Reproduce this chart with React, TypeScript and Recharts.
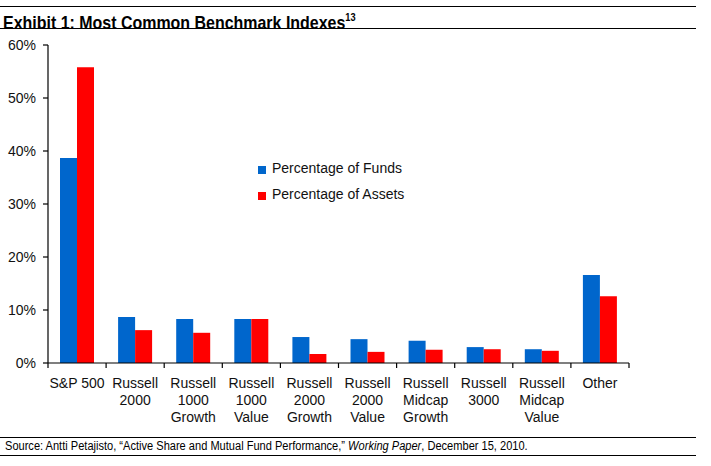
import React from "react";
import {
  Bar,
  BarChart,
  Legend,
  XAxis,
  YAxis,
} from "recharts";

// values, in percent
const categories: string[] = [
  "S&P 500",
  "Russell\n2000",
  "Russell\n1000\nGrowth",
  "Russell\n1000\nValue",
  "Russell\n2000\nGrowth",
  "Russell\n2000\nValue",
  "Russell\nMidcap\nGrowth",
  "Russell\n3000",
  "Russell\nMidcap\nValue",
  "Other",
];
const pctFunds: number[] = [38.7, 8.7, 8.3, 8.3, 4.9, 4.5, 4.2, 3.0, 2.6, 16.6];
const pctAssets: number[] = [55.8, 6.2, 5.7, 8.3, 1.7, 2.1, 2.5, 2.6, 2.3, 12.6];
const yTicks: number[] = [0, 10, 20, 30, 40, 50, 60];
const seriesOrder: string[] = ["funds", "assets"];

const data = categories.map((name, i) => ({
  name,
  funds: pctFunds[i],
  assets: pctAssets[i],
}));

const FONT = "Arial, 'Liberation Sans', sans-serif";

// label lines plus the tick marks on the category boundaries
const CategoryTick = (props: any) => {
  const { x, y, payload, index, visibleTicksCount } = props;
  const half = payload.offset || 0;
  const lines = String(payload.value).split("\n");
  return (
    <g>
      <line x1={x - half} x2={x - half} y1={y} y2={y + 5} stroke="#000" strokeWidth={1.2} />
      {index === visibleTicksCount - 1 && (
        <line x1={x + half} x2={x + half} y1={y} y2={y + 5} stroke="#000" strokeWidth={1.2} />
      )}
      <text
        x={x}
        y={y + 25}
        textAnchor="middle"
        fontFamily={FONT}
        fontSize={14}
        fill="#111"
      >
        {lines.map((line, i) => (
          <tspan key={i} x={x} dy={i === 0 ? 0 : 17}>
            {line}
          </tspan>
        ))}
      </text>
    </g>
  );
};

const LegendContent = (props: any) => {
  const items = [...(props.payload || [])].sort(
    (a: any, b: any) => seriesOrder.indexOf(a.dataKey) - seriesOrder.indexOf(b.dataKey)
  );
  return (
    <div style={{ fontFamily: FONT, fontSize: 14, color: "#111" }}>
      {items.map((entry: any, i: number) => (
        <div
          key={i}
          style={{ display: "flex", alignItems: "center", height: 26 }}
        >
          <span
            style={{
              display: "inline-block",
              width: 8,
              height: 8,
              background: entry.color,
              marginRight: 6,
              marginTop: 3,
            }}
          />
          {entry.value}
        </div>
      ))}
    </div>
  );
};

const rule = (top: number): React.CSSProperties => ({
  position: "absolute",
  left: 0,
  top,
  width: 696,
  height: 0,
  borderTop: "1.5px solid #000",
});

export default function App() {
  return (
    <div
      style={{
        position: "fixed",
        left: 0,
        top: 0,
        width: 711,
        height: 466,
        background: "#fff",
        overflow: "hidden",
      }}
    >
      <div style={rule(6)} />
      <div
        style={{
          position: "absolute",
          left: 3,
          top: 8,
          fontFamily: FONT,
          fontWeight: "bold",
          fontSize: 19,
          lineHeight: "20px",
          color: "#000",
          whiteSpace: "nowrap",
          transform: "scaleX(0.84)",
          transformOrigin: "left top",
        }}
      >
        Exhibit 1: Most Common Benchmark Indexes
        <sup style={{ fontSize: 11, position: "relative", top: -1 }}>13</sup>
      </div>
      <div style={rule(28)} />

      <div style={{ position: "absolute", left: 0, top: 0 }}>
        <BarChart
          width={711}
          height={466}
          data={data}
          margin={{ top: 45, right: 82, left: 0, bottom: 102 }}
          barCategoryGap={12}
          barGap={0}
        >
          <XAxis
            dataKey="name"
            interval={0}
            height={1}
            tickSize={0}
            tickMargin={0}
            tick={<CategoryTick />}
            axisLine={{ stroke: "#000", strokeWidth: 1.2 }}
            tickLine={false}
          />
          <YAxis
            width={48}
            domain={[0, 60]}
            ticks={yTicks}
            interval={0}
            tickSize={5}
            tickMargin={7}
            tickFormatter={(v: number) => `${v}%`}
            tick={{ fontFamily: FONT, fontSize: 14, fill: "#111" }}
            axisLine={{ stroke: "#000", strokeWidth: 1.2 }}
            tickLine={{ stroke: "#000", strokeWidth: 1.2 }}
          />
          <Legend
            layout="vertical"
            align="center"
            verticalAlign="middle"
            content={<LegendContent />}
            wrapperStyle={{ position: "absolute", left: 258, top: 155, width: 200 }}
          />
          <Bar
            dataKey="funds"
            name="Percentage of Funds"
            fill="#0066CC"
            isAnimationActive={false}
          />
          <Bar
            dataKey="assets"
            name="Percentage of Assets"
            fill="#FF0000"
            isAnimationActive={false}
          />
        </BarChart>
      </div>

      <div style={rule(437)} />
      <div
        style={{
          position: "absolute",
          left: 5,
          top: 439,
          fontFamily: FONT,
          fontSize: 12.5,
          lineHeight: "15px",
          color: "#000",
          whiteSpace: "nowrap",
          transform: "scaleX(0.885)",
          transformOrigin: "left top",
        }}
      >
        Source: Antti Petajisto, “Active Share and Mutual Fund Performance,”{" "}
        <i>Working Paper</i>, December 15, 2010.
      </div>
      <div style={rule(455)} />
    </div>
  );
}
